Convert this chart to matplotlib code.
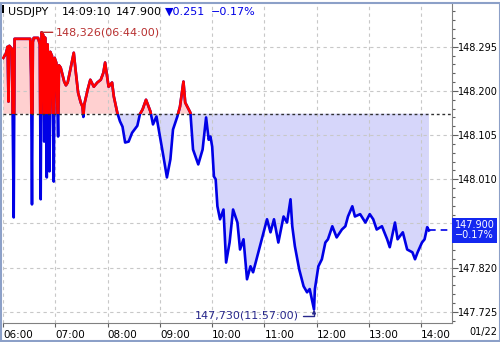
import pandas as pd
import matplotlib
matplotlib.use("Agg")
import matplotlib.pyplot as plt
from matplotlib.patches import Rectangle
from matplotlib.ticker import FixedLocator, AutoMinorLocator

# USDJPY intraday
times = ["06:00", "06:03", "06:05", "06:06", "06:07", "06:10", "06:12", "06:13", "06:20", "06:31",
         "06:32", "06:33", "06:34", "06:35", "06:40", "06:42", "06:43", "06:44", "06:46", "06:47",
         "06:48", "06:50", "06:51", "06:53", "06:54", "06:56", "06:58", "06:59", "07:01", "07:03",
         "07:04", "07:06", "07:08", "07:10", "07:12", "07:14", "07:17", "07:21", "07:23", "07:26",
         "07:29", "07:31", "07:32", "07:33", "07:37", "07:40", "07:44", "07:48", "07:52", "07:55",
         "07:57", "08:01", "08:05", "08:07", "08:11", "08:14", "08:17", "08:20", "08:24", "08:28",
         "08:34", "08:37", "08:40", "08:44", "08:49", "08:52", "08:56", "09:00", "09:04", "09:08",
         "09:12", "09:15", "09:20", "09:23", "09:27", "09:29", "09:35", "09:38", "09:44", "09:49",
         "09:53", "09:56", "09:58", "10:00", "10:02", "10:04", "10:06", "10:09", "10:13", "10:16",
         "10:20", "10:24", "10:29", "10:32", "10:36", "10:40", "10:44", "10:47", "10:53", "10:57",
         "11:03", "11:07", "11:11", "11:16", "11:22", "11:26", "11:30", "11:32", "11:35", "11:40",
         "11:45", "11:49", "11:52", "11:57", "11:58", "12:02", "12:06", "12:10", "12:13", "12:18",
         "12:23", "12:29", "12:33", "12:36", "12:41", "12:44", "12:50", "12:56", "13:01", "13:05",
         "13:09", "13:15", "13:21", "13:24", "13:30", "13:33", "13:39", "13:44", "13:50", "13:53",
         "13:56", "14:01", "14:04", "14:07", "14:09"]
prices = [148.271, 148.280, 148.295, 148.177, 148.297, 148.290, 147.928, 148.312, 148.312, 148.312,
          148.231, 147.956, 148.305, 148.314, 148.314, 148.300, 147.967, 148.326, 148.320, 148.091,
          148.315, 148.014, 148.300, 148.027, 148.284, 148.275, 148.005, 148.271, 148.260, 148.102,
          148.255, 148.250, 148.235, 148.220, 148.212, 148.218, 148.245, 148.282, 148.246, 148.196,
          148.175, 148.166, 148.144, 148.170, 148.203, 148.224, 148.209, 148.218, 148.224, 148.239,
          148.261, 148.209, 148.218, 148.188, 148.153, 148.135, 148.123, 148.089, 148.091, 148.110,
          148.125, 148.150, 148.160, 148.181, 148.156, 148.128, 148.145, 148.102, 148.059, 148.014,
          148.053, 148.117, 148.145, 148.166, 148.220, 148.175, 148.153, 148.074, 148.042, 148.074,
          148.143, 148.095, 148.102, 148.080, 148.016, 148.010, 147.952, 147.924, 147.945, 147.831,
          147.874, 147.945, 147.917, 147.859, 147.881, 147.795, 147.823, 147.810, 147.853, 147.881,
          147.924, 147.896, 147.924, 147.874, 147.930, 147.917, 147.967, 147.909, 147.866, 147.816,
          147.780, 147.767, 147.774, 147.730, 147.774, 147.823, 147.838, 147.874, 147.881, 147.909,
          147.885, 147.902, 147.909, 147.930, 147.952, 147.930, 147.935, 147.917, 147.935, 147.924,
          147.902, 147.909, 147.881, 147.864, 147.917, 147.881, 147.896, 147.859, 147.853, 147.838,
          147.853, 147.874, 147.881, 147.907, 147.900]
prev_close = 148.151
last_price = 147.900
change = -0.251
change_pct = -0.17
high_time, high_price = "06:44", 148.326
low_time, low_price = "11:57", 147.730
hour_labels = ["06:00", "07:00", "08:00", "09:00", "10:00", "11:00", "12:00", "13:00", "14:00"]
y_ticks = [147.725, 147.820, 147.915, 148.010, 148.105, 148.200, 148.295]


def to_min(t):
    # minutes since 06:00
    td = pd.to_timedelta(t + ":00")
    return td.total_seconds() / 60 - 360


x = pd.Series([to_min(t) for t in times])
y = pd.Series(prices)

RED = "#ff0000"
BLUE = "#0000e6"

fig = plt.figure(figsize=(5, 3.42), dpi=100)
ax = fig.add_axes([3 / 500, 19 / 342, 449 / 500, 320 / 342])
ax.set_xlim(-0.3, 515.5)
ax.set_ylim(147.701, 148.389)

# fills between price and previous close
ax.fill_between(x, y, prev_close, where=y >= prev_close, interpolate=True,
                color="#ffd0d0", lw=0)
ax.fill_between(x, y, prev_close, where=y <= prev_close, interpolate=True,
                color="#d6d6fa", lw=0)

# line: blue everywhere, red clipped above previous close
ax.plot(x, y, color=BLUE, lw=1.9)
red_line, = ax.plot(x, y, color=RED, lw=1.9)
clip = Rectangle((-10, prev_close), 600, 1.0, transform=ax.transData)
red_line.set_clip_path(clip)

ax.axhline(prev_close, color="#303030", lw=1, ls=(0, (2, 2)))
ax.plot([x.iloc[-1], 515.5], [last_price, last_price], color=BLUE, lw=1.2, ls=(0, (4, 3)))

# high / low markers
ax.annotate(f"{high_price:.3f}({high_time}:00)".replace(".", ","),
            xy=(to_min(high_time), high_price), xytext=(to_min("07:00"), high_price),
            color="#b83030", fontsize=8, ha="left", va="center",
            arrowprops=dict(arrowstyle="-", color="#b83030", lw=1, shrinkA=0, shrinkB=0))
ax.annotate(f"{low_price:.3f}({low_time}:00)".replace(".", ","),
            xy=(to_min(low_time), low_price), xytext=(to_min("11:39"), 147.717),
            color="#28288c", fontsize=8, ha="right", va="center",
            arrowprops=dict(arrowstyle="-|>,head_length=0.25,head_width=0.12", color="#28288c",
                            lw=1, shrinkA=1, shrinkB=0,
                            connectionstyle="angle,angleA=0,angleB=90,rad=0"))

# last price tag on the axis
ax.annotate(f"{last_price:.3f}\n{change_pct:.2f}%".replace("-", "\u2212"),
            xy=(1.0, last_price), xycoords=("axes fraction", "data"),
            xytext=(2, 0), textcoords="offset points", color="white",
            fontsize=7, ha="left", va="center", linespacing=1.0, zorder=10,
            bbox=dict(boxstyle="square,pad=0.25", fc="#1428f0", ec="none"))

# axes styling
ax.set_facecolor("white")
for s in ["left", "top"]:
    ax.spines[s].set_visible(False)
for s in ["right", "bottom"]:
    ax.spines[s].set_color("#808080")
ax.yaxis.tick_right()
ax.yaxis.set_major_locator(FixedLocator(y_ticks))
ax.yaxis.set_minor_locator(AutoMinorLocator(5))
# the 147.915 label sits under the last-price tag
ax.set_yticklabels(["" if abs(v - 147.915) < 1e-6 else f"{v:.3f}" for v in y_ticks])
ax.tick_params(axis="y", which="major", length=4, width=0.8, color="#606060",
               labelsize=7, pad=0.5)
ax.tick_params(axis="y", which="minor", length=2, width=0.8, color="#606060")
ax.set_xticks([to_min(h) for h in hour_labels])
ax.set_xticklabels(hour_labels)
for lab in ax.get_xticklabels():
    lab.set_ha("left")
ax.tick_params(axis="x", length=3, width=0.8, color="#606060", labelsize=7.5, pad=2)
ax.grid(True, color="#c8c8c8", ls=(0, (3, 3)), lw=0.8)

# header
fig.patches.append(Rectangle((2 / 500, 329 / 342), 2 / 500, 8 / 342,
                             transform=fig.transFigure, fc="black", ec="none"))
hy = 1 - 12 / 342
fig.text(8 / 500, hy, "USDJPY", fontsize=8, va="center")
fig.text(62 / 500, hy, "14:09:10", fontsize=8, va="center")
fig.text(116 / 500, hy, f"{last_price:.3f}", fontsize=8, va="center")
fig.text(165 / 500, hy, f"\u25bc{abs(change):.3f}", fontsize=8, va="center", color=BLUE)
fig.text(211 / 500, hy, f"\u2212{abs(change_pct):.2f}%", fontsize=8, va="center", color=BLUE)
fig.text(497 / 500, 1 - 332 / 342, "01/22", fontsize=7, va="center", ha="right")

# window frame
fig.patches.append(Rectangle((0.5 / 500, 1.5 / 342), 499 / 500, 338 / 342,
                             transform=fig.transFigure, fc="none", ec="#8ca0c8", lw=1.5))

fig.savefig("out.png", dpi=100)
